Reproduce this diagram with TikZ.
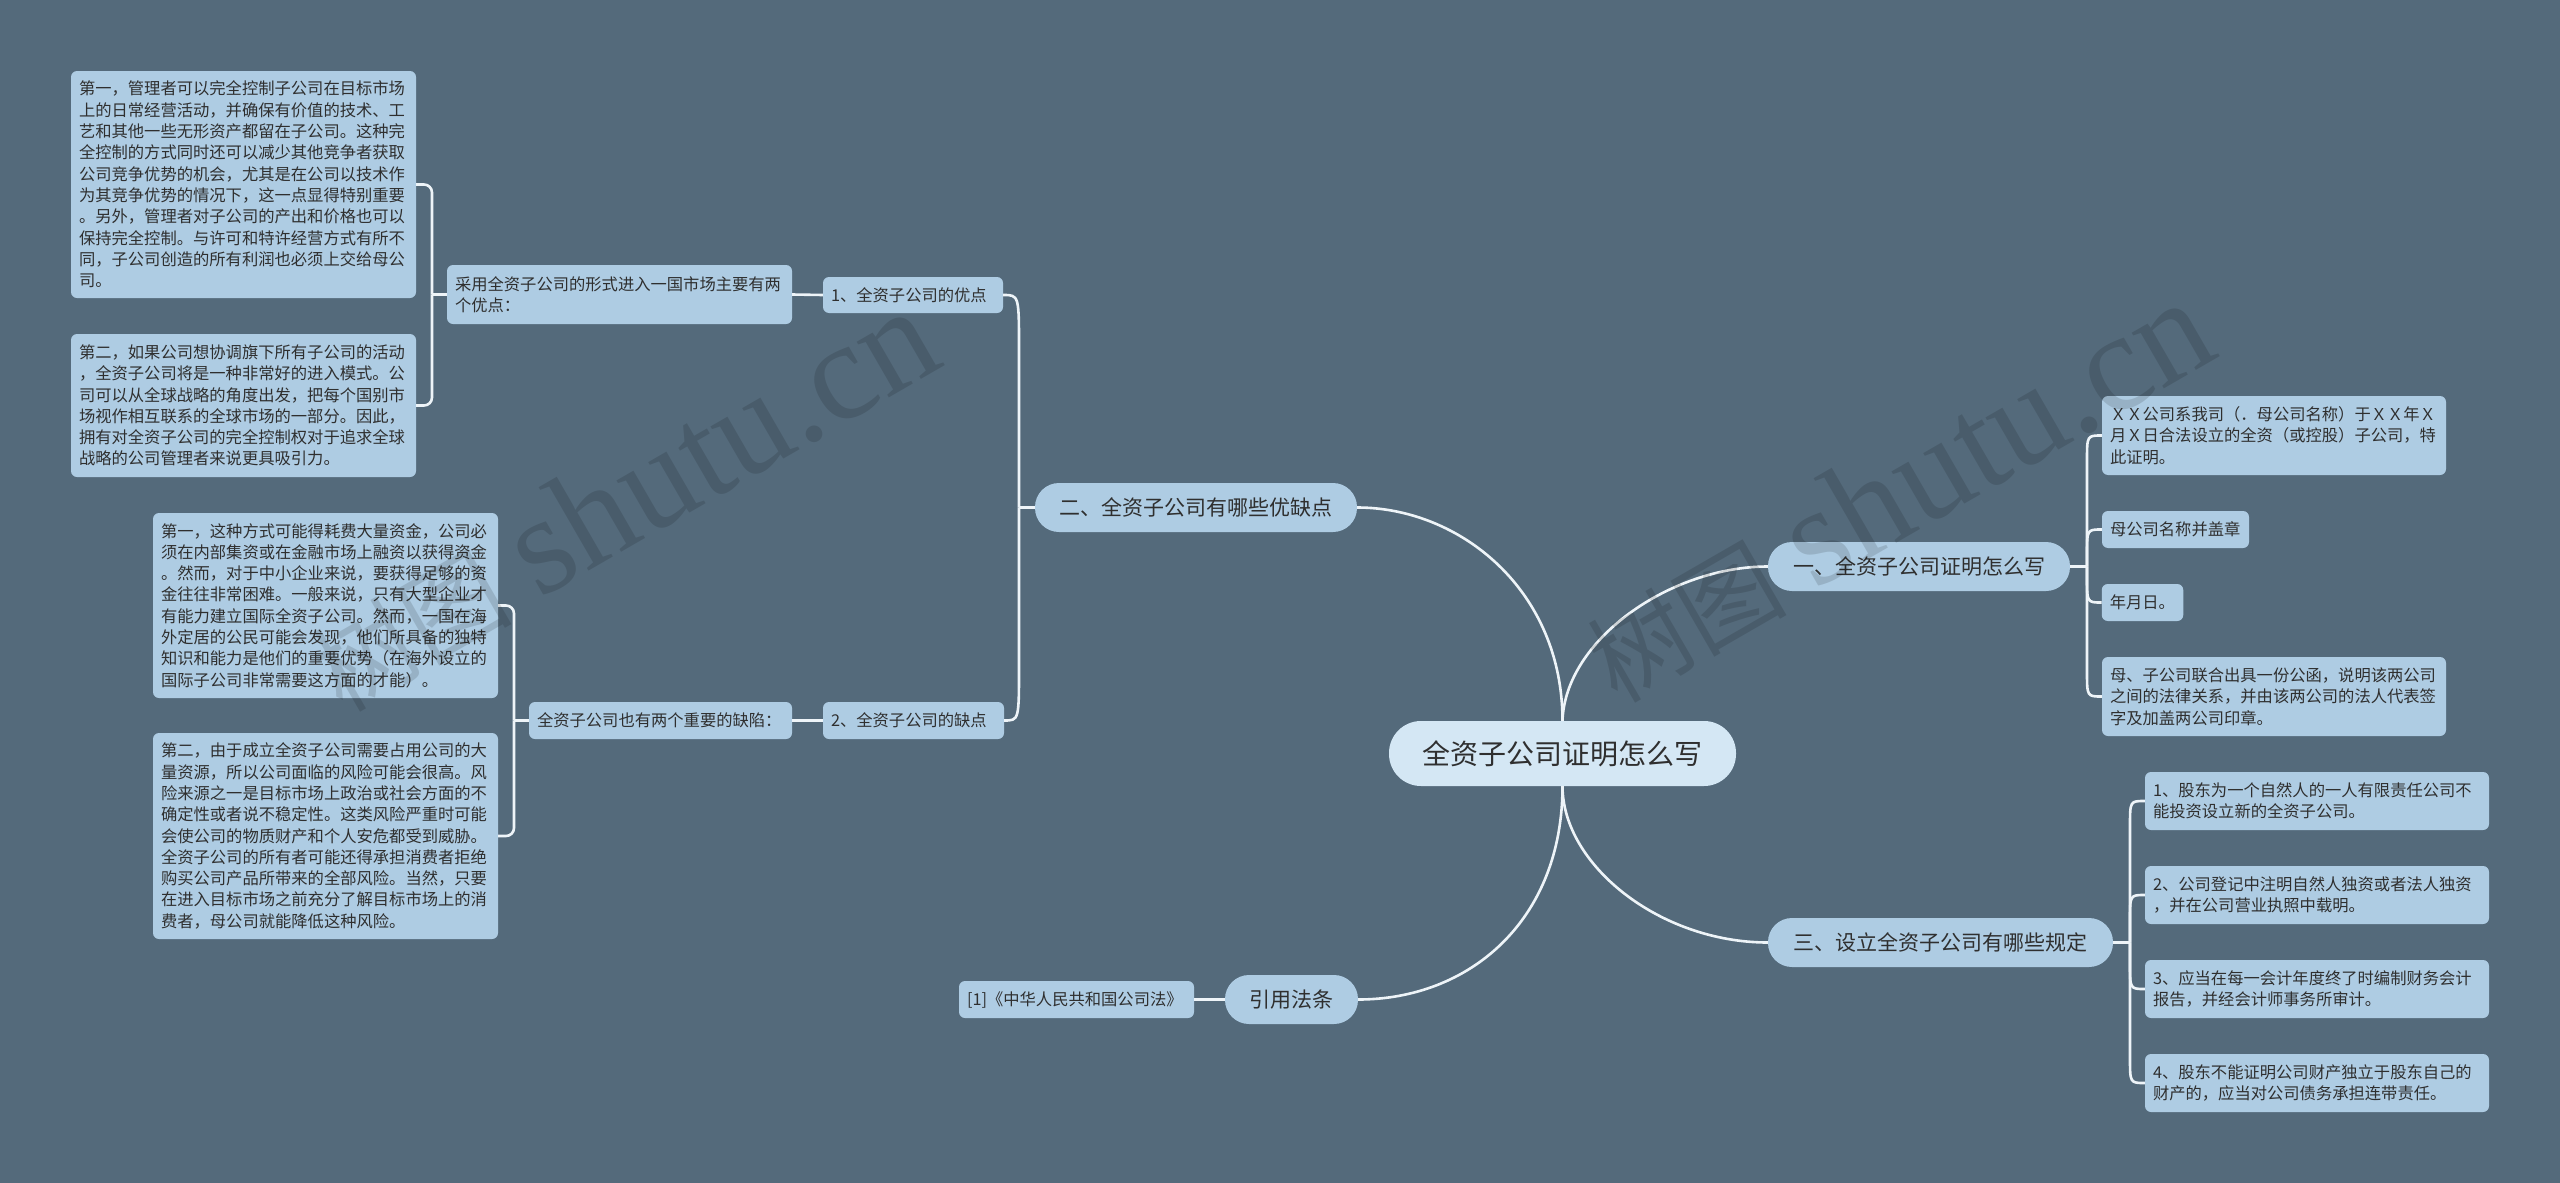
\documentclass[tikz,border=0pt]{standalone}
\usepackage{fontspec}
\setmainfont{Noto Sans CJK SC}
\newfontfamily\wmlatin{Liberation Serif}
\usetikzlibrary{calc}
\definecolor{bgc}{HTML}{546A7B}
\definecolor{nodec}{HTML}{AECCE3}
\definecolor{centc}{HTML}{D4E7F4}
\definecolor{linec}{HTML}{EEF4F8}
\definecolor{txtc}{HTML}{2F2F2F}
\tikzset{
  leaf/.style={fill=nodec, rounded corners=6pt, align=left, text=txtc,
    font=\fontsize{16.3}{21.3}\selectfont, inner xsep=8pt, inner ysep=4pt},
  leafbox/.style 2 args={leaf, text width=#1, minimum height=#2},
  topic/.style 2 args={fill=nodec, rounded corners=24pt, text=txtc,
    font=\fontsize{21}{25}\selectfont, inner sep=2pt, minimum width=#1, minimum height=#2},
  root/.style 2 args={fill=centc, rounded corners=32pt, text=txtc,
    font=\fontsize{28}{32}\selectfont, inner sep=2pt, minimum width=#1, minimum height=#2},
  link/.style={draw=linec, line width=2.6pt},
  bracket/.style={link, rounded corners=8pt},
  wm/.style={text=black, text opacity=0.13, rotate=30, anchor=base west, inner sep=0pt}
}
\begin{document}
\begin{tikzpicture}[x=1pt,y=-1pt]
\fill[bgc] (0,0) rectangle (2560,1183);
\useasboundingbox (0,0) rectangle (2560,1183);

% root and main topics
\node[root={347pt}{65pt}] (c) at (1562.5,753.5) {全资子公司证明怎么写};
\node[topic={322pt}{49pt}] (n2) at (1196,507.5) {二、全资子公司有哪些优缺点};
\node[topic={302pt}{49pt}] (n1) at (1919,566.5) {一、全资子公司证明怎么写};
\node[topic={345pt}{49pt}] (n3) at (1940.5,942.5) {三、设立全资子公司有哪些规定};
\node[topic={133pt}{49pt}] (n4) at (1291.5,999.5) {引用法条};

% left side
\node[leafbox={164pt}{36pt}] (adv) at (913,295) {1、全资子公司的优点};
\node[leafbox={329pt}{59pt}] (advt) at (619.5,294.5) {采用全资子公司的形式进入一国市场主要有两\\个优点：};
\node[leafbox={165pt}{37pt}] (dis) at (913.5,720.5) {2、全资子公司的缺点};
\node[leafbox={247pt}{37pt}] (dist) at (660.5,720.5) {全资子公司也有两个重要的缺陷：};
\node[leafbox={329pt}{227pt}] (a1) at (243.5,184.5) {第一，管理者可以完全控制子公司在目标市场\\上的日常经营活动，并确保有价值的技术、工\\艺和其他一些无形资产都留在子公司。这种完\\全控制的方式同时还可以减少其他竞争者获取\\公司竞争优势的机会，尤其是在公司以技术作\\为其竞争优势的情况下，这一点显得特别重要\\。另外，管理者对子公司的产出和价格也可以\\保持完全控制。与许可和特许经营方式有所不\\同，子公司创造的所有利润也必须上交给母公\\司。};
\node[leafbox={329pt}{143pt}] (a2) at (243.5,405.5) {第二，如果公司想协调旗下所有子公司的活动\\，全资子公司将是一种非常好的进入模式。公\\司可以从全球战略的角度出发，把每个国别市\\场视作相互联系的全球市场的一部分。因此，\\拥有对全资子公司的完全控制权对于追求全球\\战略的公司管理者来说更具吸引力。};
\node[leafbox={329pt}{185pt}] (b1) at (325.5,605.5) {第一，这种方式可能得耗费大量资金，公司必\\须在内部集资或在金融市场上融资以获得资金\\。然而，对于中小企业来说，要获得足够的资\\金往往非常困难。一般来说，只有大型企业才\\有能力建立国际全资子公司。然而，一国在海\\外定居的公民可能会发现，他们所具备的独特\\知识和能力是他们的重要优势（在海外设立的\\国际子公司非常需要这方面的才能）。};
\node[leafbox={329pt}{206pt}] (b2) at (325.5,836) {第二，由于成立全资子公司需要占用公司的大\\量资源，所以公司面临的风险可能会很高。风\\险来源之一是目标市场上政治或社会方面的不\\确定性或者说不稳定性。这类风险严重时可能\\会使公司的物质财产和个人安危都受到威胁。\\全资子公司的所有者可能还得承担消费者拒绝\\购买公司产品所带来的全部风险。当然，只要\\在进入目标市场之前充分了解目标市场上的消\\费者，母公司就能降低这种风险。};
\node[leafbox={219pt}{37pt}] (ref) at (1076.5,999.5) {[1]《中华人民共和国公司法》};

% right side, part one
\node[leafbox={328pt}{79pt}] (l1) at (2274,435.5) {ＸＸ公司系我司（．母公司名称）于ＸＸ年Ｘ\\月Ｘ日合法设立的全资（或控股）子公司，特\\此证明。};
\node[leafbox={131pt}{37pt}] (l2) at (2175.5,529.5) {母公司名称并盖章};
\node[leafbox={65.5pt}{37pt}] (l3) at (2142.5,602.5) {年月日。};
\node[leafbox={328pt}{79pt}] (l4) at (2274,696.5) {母、子公司联合出具一份公函，说明该两公司\\之间的法律关系，并由该两公司的法人代表签\\字及加盖两公司印章。};

% right side, part three
\node[leafbox={328pt}{58pt}] (r1) at (2317,801) {1、股东为一个自然人的一人有限责任公司不\\能投资设立新的全资子公司。};
\node[leafbox={328pt}{58pt}] (r2) at (2317,895) {2、公司登记中注明自然人独资或者法人独资\\，并在公司营业执照中载明。};
\node[leafbox={328pt}{58pt}] (r3) at (2317,989) {3、应当在每一会计年度终了时编制财务会计\\报告，并经会计师事务所审计。};
\node[leafbox={328pt}{58pt}] (r4) at (2317,1083) {4、股东不能证明公司财产独立于股东自己的\\财产的，应当对公司债务承担连带责任。};

% main curves
\draw[link] (c.north) .. controls (1562.5,590) and (1460,507.5) .. (n2.east);
\draw[link] (c.north) .. controls (1565,640) and (1670,566.5) .. (n1.west);
\draw[link] (c.south) .. controls (1562.5,920) and (1470,999.5) .. (n4.east);
\draw[link] (c.south) .. controls (1562.5,865) and (1660,942.5) .. (n3.west);

% part two tree
\coordinate (j2) at (1019,507.5);
\draw[link] (n2.west) -- (j2);
\draw[link] (j2) -- ($(j2|-adv.east)+(0,55)$) .. controls (j2|-adv.east) .. (adv.east);
\draw[link] (j2) -- ($(j2|-dis.east)+(0,-55)$) .. controls (j2|-dis.east) .. (dis.east);
\draw[link] (adv.west) -- (advt.east);
\draw[link] (dis.west) -- (dist.east);
\coordinate (ja) at (432,294.5);
\draw[link] (advt.west) -- (ja);
\draw[bracket] (ja) |- (a1.east);
\draw[bracket] (ja) |- (a2.east);
\coordinate (jb) at (514,720.5);
\draw[link] (dist.west) -- (jb);
\draw[bracket] (jb) |- (b1.east);
\draw[bracket] (jb) |- (b2.east);
\draw[link] (n4.west) -- (ref.east);

% part one tree
\coordinate (j1) at (2087,566.5);
\draw[link] (n1.east) -- (j1);
\draw[link] (j1) -- ($(j1|-l1.west)+(0,25)$) .. controls (j1|-l1.west) .. (l1.west);
\draw[link] (j1) -- ($(j1|-l2.west)+(0,25)$) .. controls (j1|-l2.west) .. (l2.west);
\draw[link] (j1) -- ($(j1|-l3.west)+(0,-25)$) .. controls (j1|-l3.west) .. (l3.west);
\draw[link] (j1) -- ($(j1|-l4.west)+(0,-25)$) .. controls (j1|-l4.west) .. (l4.west);

% part three tree
\coordinate (j3) at (2130,942.5);
\draw[link] (n3.east) -- (j3);
\draw[link] (j3) -- ($(j3|-r1.west)+(0,25)$) .. controls (j3|-r1.west) .. (r1.west);
\draw[link] (j3) -- ($(j3|-r2.west)+(0,25)$) .. controls (j3|-r2.west) .. (r2.west);
\draw[link] (j3) -- ($(j3|-r3.west)+(0,-25)$) .. controls (j3|-r3.west) .. (r3.west);
\draw[link] (j3) -- ($(j3|-r4.west)+(0,-25)$) .. controls (j3|-r4.west) .. (r4.west);

% watermarks
\node[wm] (wm1) at (342,714) {\fontsize{100}{100}\selectfont 树图\hspace{28pt}{\wmlatin\fontsize{140}{140}\selectfont shutu.cn}};
\node[wm] (wm2) at (1617,705) {\fontsize{100}{100}\selectfont 树图\hspace{28pt}{\wmlatin\fontsize{140}{140}\selectfont shutu.cn}};
\end{tikzpicture}
\end{document}
